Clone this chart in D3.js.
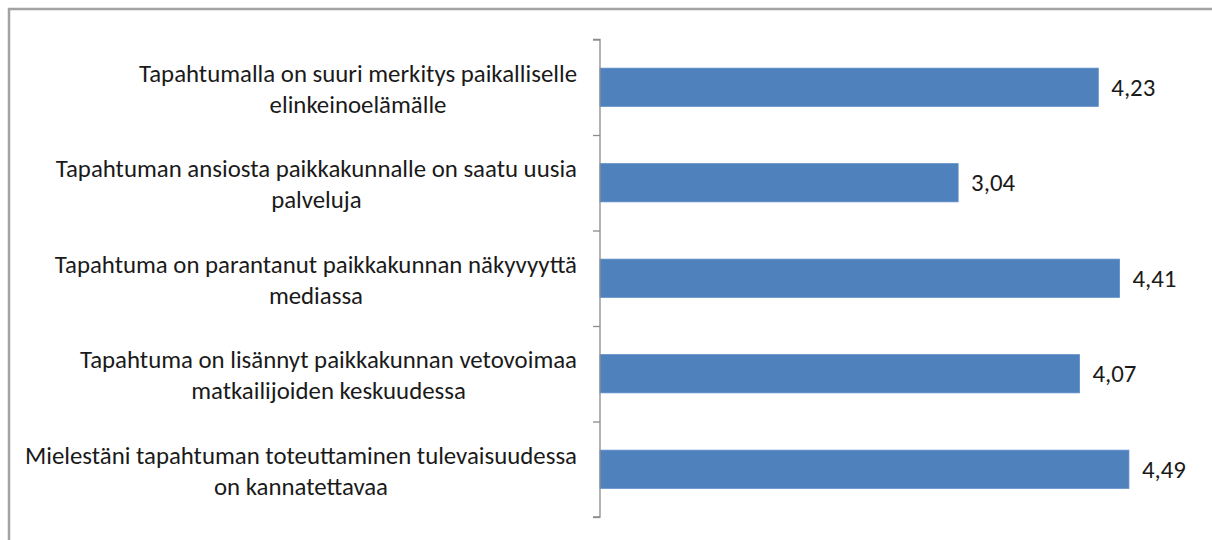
<!DOCTYPE html>
<html>
<head>
<meta charset="utf-8">
<script src="https://cdn.jsdelivr.net/npm/d3@7"></script>
<style>
  body { margin: 0; background: #fff; }
  svg text { font-family: Carlito, Calibri, Lato, "Open Sans", sans-serif; fill: #1a1a1a; }
</style>
</head>
<body>
<div id="chart"></div>
<script>
const categories = [
  ["Tapahtumalla on suuri merkitys paikalliselle", "elinkeinoelämälle"],
  ["Tapahtuman ansiosta paikkakunnalle on saatu uusia", "palveluja"],
  ["Tapahtuma on parantanut paikkakunnan näkyvyyttä", "mediassa"],
  ["Tapahtuma on lisännyt paikkakunnan vetovoimaa", "matkailijoiden keskuudessa"],
  ["Mielestäni tapahtuman toteuttaminen tulevaisuudessa", "on kannatettavaa"]
];
const values = [4.23, 3.04, 4.41, 4.07, 4.49];
const xDomain = [0, 5];

const width = 1212, height = 540;
const axisX = 600, plotTop = 39.5, plotBottom = 517;

const svg = d3.select('#chart').append('svg')
  .attr('width', width)
  .attr('height', height);

// frame (only top and left edges are visible in the picture)
svg.append('path')
  .attr('d', `M9,${height} V9 H${width}`)
  .attr('fill', 'none')
  .attr('stroke', '#a3a3a3')
  .attr('stroke-width', 2.5);

const ids = categories.map((c, i) => i);
const y = d3.scaleBand()
  .domain(ids)
  .range([plotTop, plotBottom])
  .paddingInner(0.6)
  .paddingOuter(0.3);

const x = d3.scaleLinear()
  .domain(xDomain)
  .range([axisX, 1189]);

// bars
svg.selectAll('rect.bar')
  .data(values)
  .enter()
  .append('rect')
  .attr('class', 'bar')
  .attr('x', x(0))
  .attr('y', (d, i) => y(i))
  .attr('width', d => x(d) - x(0))
  .attr('height', y.bandwidth())
  .attr('fill', '#4f81bd')
  .attr('stroke', '#5a8ac6')
  .attr('stroke-width', 0.8);

// category axis with ticks on the band boundaries
const edges = d3.scaleLinear().domain([0, ids.length]).range([plotTop, plotBottom]);
const axis = svg.append('g')
  .attr('transform', `translate(${axisX},0)`)
  .call(d3.axisLeft(edges).tickValues(d3.range(ids.length + 1)).tickSize(7).tickFormat(''));
axis.select('.domain').attr('stroke', '#8c8c8c').attr('stroke-width', 1.3)
  .attr('d', `M-7,${plotTop}H0V${plotBottom}H-7`);
axis.selectAll('.tick line').attr('stroke', '#8c8c8c').attr('stroke-width', 1.3);

// value labels
const fmt = d3.format('.2f');
svg.selectAll('text.val')
  .data(values)
  .enter()
  .append('text')
  .attr('class', 'val')
  .attr('x', d => x(d) + 13)
  .attr('y', (d, i) => y(i) + y.bandwidth() / 2)
  .attr('dy', '0.36em')
  .attr('font-size', 23.5)
  .text(d => fmt(d).replace('.', ','));

// category labels: block right-aligned, lines centred within it
const labelRight = 577, lineGap = 31;
svg.selectAll('g.cat')
  .data(categories)
  .enter()
  .append('g')
  .attr('class', 'cat')
  .each(function (lines, i) {
    const cy = y(i) + y.bandwidth() / 2 + 1;
    d3.select(this).selectAll('text')
      .data(lines)
      .enter()
      .append('text')
      .attr('font-size', 25)
      .attr('text-anchor', 'middle')
      .attr('y', (d, j) => cy + (j - (lines.length - 1) / 2) * lineGap)
      .attr('dy', '0.36em')
      .text(d => d);
  });

// narrow the substitute font to Calibri-like widths
const ref = svg.selectAll('g.cat').filter((d, i) => i === 4).select('text').node();
const k = 552 / ref.getComputedTextLength();
svg.selectAll('g.cat').each(function () {
  const texts = d3.select(this).selectAll('text');
  let w = 0;
  texts.each(function () { w = Math.max(w, this.getComputedTextLength() * k); });
  const cx = labelRight - w / 2;
  texts.each(function () {
    const tw = this.getComputedTextLength() * k;
    d3.select(this).attr('x', cx)
      .attr('textLength', tw)
      .attr('lengthAdjust', 'spacingAndGlyphs');
  });
});
const kv = 44 / svg.select('text.val').node().getComputedTextLength();
svg.selectAll('text.val').each(function () {
  const tw = this.getComputedTextLength() * kv;
  d3.select(this).attr('textLength', tw).attr('lengthAdjust', 'spacingAndGlyphs');
});
</script>
</body>
</html>
